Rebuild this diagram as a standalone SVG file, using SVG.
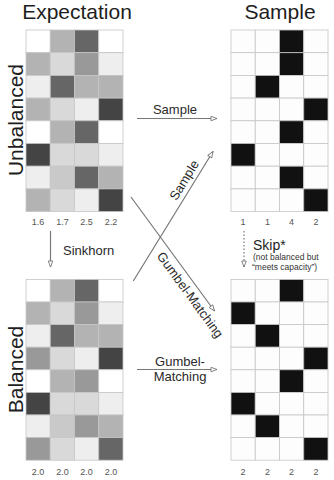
<svg xmlns="http://www.w3.org/2000/svg" width="334" height="480" viewBox="0 0 334 480">
<defs>
<style>
text{font-family:"Liberation Sans",Arial,sans-serif;}
.title{font-size:21px;fill:#1e1e1e;}
.side{font-size:21px;fill:#1e1e1e;}
.lbl{font-size:9px;fill:#555;text-anchor:middle;}
.al{font-size:13px;fill:#2a2a2a;}
.cell rect{stroke:#c6c6c6;stroke-width:0.8;}
.c0{fill:#ffffff}.c1{fill:#eeeeee}.c2{fill:#d9d9d9}.c3{fill:#c9c9c9}.c4{fill:#b3b3b3}.c5{fill:#999999}.c6{fill:#666666}.c7{fill:#444444}.k{fill:#111111}.w{fill:#fdfdfd}
.conn{stroke:#777;stroke-width:1.2;fill:none;}
</style>
<marker id="ah" viewBox="0 0 10 8" refX="9" refY="4" markerWidth="8" markerHeight="6" markerUnits="userSpaceOnUse" orient="auto">
<path d="M1,1 L9,4 L1,7 Z" fill="#fff" stroke="#777" stroke-width="1.2"/>
</marker>
</defs>
<rect width="334" height="480" fill="#fff"/>

<text class="title" x="77" y="19" text-anchor="middle">Expectation</text>
<text class="title" x="280" y="19" text-anchor="middle">Sample</text>

<g id="unbalanced-expectation">
<text class="side" transform="translate(23,120) rotate(-90)" text-anchor="middle">Unbalanced</text>
<g class="cell">
<rect class="c0" x="26" y="30" width="24.25" height="22.7"/><rect class="c4" x="50.25" y="30" width="24.25" height="22.7"/><rect class="c6" x="74.5" y="30" width="24.25" height="22.7"/><rect class="c0" x="98.75" y="30" width="24.25" height="22.7"/>
<rect class="c4" x="26" y="52.7" width="24.25" height="22.7"/><rect class="c2" x="50.25" y="52.7" width="24.25" height="22.7"/><rect class="c5" x="74.5" y="52.7" width="24.25" height="22.7"/><rect class="c1" x="98.75" y="52.7" width="24.25" height="22.7"/>
<rect class="c1" x="26" y="75.4" width="24.25" height="22.7"/><rect class="c6" x="50.25" y="75.4" width="24.25" height="22.7"/><rect class="c4" x="74.5" y="75.4" width="24.25" height="22.7"/><rect class="c4" x="98.75" y="75.4" width="24.25" height="22.7"/>
<rect class="c4" x="26" y="98.1" width="24.25" height="22.7"/><rect class="c2" x="50.25" y="98.1" width="24.25" height="22.7"/><rect class="c1" x="74.5" y="98.1" width="24.25" height="22.7"/><rect class="c7" x="98.75" y="98.1" width="24.25" height="22.7"/>
<rect class="c0" x="26" y="120.8" width="24.25" height="22.7"/><rect class="c4" x="50.25" y="120.8" width="24.25" height="22.7"/><rect class="c6" x="74.5" y="120.8" width="24.25" height="22.7"/><rect class="c0" x="98.75" y="120.8" width="24.25" height="22.7"/>
<rect class="c7" x="26" y="143.5" width="24.25" height="22.7"/><rect class="c2" x="50.25" y="143.5" width="24.25" height="22.7"/><rect class="c2" x="74.5" y="143.5" width="24.25" height="22.7"/><rect class="c1" x="98.75" y="143.5" width="24.25" height="22.7"/>
<rect class="c1" x="26" y="166.2" width="24.25" height="22.7"/><rect class="c3" x="50.25" y="166.2" width="24.25" height="22.7"/><rect class="c6" x="74.5" y="166.2" width="24.25" height="22.7"/><rect class="c4" x="98.75" y="166.2" width="24.25" height="22.7"/>
<rect class="c4" x="26" y="188.9" width="24.25" height="22.7"/><rect class="c2" x="50.25" y="188.9" width="24.25" height="22.7"/><rect class="c1" x="74.5" y="188.9" width="24.25" height="22.7"/><rect class="c7" x="98.75" y="188.9" width="24.25" height="22.7"/>
</g>
<text class="lbl" x="38.1" y="225">1.6</text><text class="lbl" x="62.4" y="225">1.7</text><text class="lbl" x="86.6" y="225">2.5</text><text class="lbl" x="110.9" y="225">2.2</text>
</g>

<g id="balanced-expectation">
<text class="side" transform="translate(23,369.5) rotate(-90)" text-anchor="middle">Balanced</text>
<g class="cell">
<rect class="c0" x="26" y="279.4" width="24.25" height="22.6"/><rect class="c4" x="50.25" y="279.4" width="24.25" height="22.6"/><rect class="c6" x="74.5" y="279.4" width="24.25" height="22.6"/><rect class="c0" x="98.75" y="279.4" width="24.25" height="22.6"/>
<rect class="c4" x="26" y="302" width="24.25" height="22.6"/><rect class="c2" x="50.25" y="302" width="24.25" height="22.6"/><rect class="c5" x="74.5" y="302" width="24.25" height="22.6"/><rect class="c1" x="98.75" y="302" width="24.25" height="22.6"/>
<rect class="c1" x="26" y="324.6" width="24.25" height="22.6"/><rect class="c6" x="50.25" y="324.6" width="24.25" height="22.6"/><rect class="c4" x="74.5" y="324.6" width="24.25" height="22.6"/><rect class="c4" x="98.75" y="324.6" width="24.25" height="22.6"/>
<rect class="c5" x="26" y="347.2" width="24.25" height="22.6"/><rect class="c2" x="50.25" y="347.2" width="24.25" height="22.6"/><rect class="c1" x="74.5" y="347.2" width="24.25" height="22.6"/><rect class="c7" x="98.75" y="347.2" width="24.25" height="22.6"/>
<rect class="c0" x="26" y="369.8" width="24.25" height="22.6"/><rect class="c4" x="50.25" y="369.8" width="24.25" height="22.6"/><rect class="c5" x="74.5" y="369.8" width="24.25" height="22.6"/><rect class="c0" x="98.75" y="369.8" width="24.25" height="22.6"/>
<rect class="c7" x="26" y="392.4" width="24.25" height="22.6"/><rect class="c2" x="50.25" y="392.4" width="24.25" height="22.6"/><rect class="c2" x="74.5" y="392.4" width="24.25" height="22.6"/><rect class="c1" x="98.75" y="392.4" width="24.25" height="22.6"/>
<rect class="c1" x="26" y="415" width="24.25" height="22.6"/><rect class="c3" x="50.25" y="415" width="24.25" height="22.6"/><rect class="c5" x="74.5" y="415" width="24.25" height="22.6"/><rect class="c4" x="98.75" y="415" width="24.25" height="22.6"/>
<rect class="c5" x="26" y="437.6" width="24.25" height="22.6"/><rect class="c2" x="50.25" y="437.6" width="24.25" height="22.6"/><rect class="c1" x="74.5" y="437.6" width="24.25" height="22.6"/><rect class="c6" x="98.75" y="437.6" width="24.25" height="22.6"/>
</g>
<text class="lbl" x="38.1" y="475">2.0</text><text class="lbl" x="62.4" y="475">2.0</text><text class="lbl" x="86.6" y="475">2.0</text><text class="lbl" x="110.9" y="475">2.0</text>
</g>

<g id="unbalanced-sample">
<g class="cell">
<rect class="w" x="231" y="30" width="24.25" height="22.7"/><rect class="w" x="255.25" y="30" width="24.25" height="22.7"/><rect class="k" x="279.5" y="30" width="24.25" height="22.7"/><rect class="w" x="303.75" y="30" width="24.25" height="22.7"/>
<rect class="w" x="231" y="52.7" width="24.25" height="22.7"/><rect class="w" x="255.25" y="52.7" width="24.25" height="22.7"/><rect class="k" x="279.5" y="52.7" width="24.25" height="22.7"/><rect class="w" x="303.75" y="52.7" width="24.25" height="22.7"/>
<rect class="w" x="231" y="75.4" width="24.25" height="22.7"/><rect class="k" x="255.25" y="75.4" width="24.25" height="22.7"/><rect class="w" x="279.5" y="75.4" width="24.25" height="22.7"/><rect class="w" x="303.75" y="75.4" width="24.25" height="22.7"/>
<rect class="w" x="231" y="98.1" width="24.25" height="22.7"/><rect class="w" x="255.25" y="98.1" width="24.25" height="22.7"/><rect class="w" x="279.5" y="98.1" width="24.25" height="22.7"/><rect class="k" x="303.75" y="98.1" width="24.25" height="22.7"/>
<rect class="w" x="231" y="120.8" width="24.25" height="22.7"/><rect class="w" x="255.25" y="120.8" width="24.25" height="22.7"/><rect class="k" x="279.5" y="120.8" width="24.25" height="22.7"/><rect class="w" x="303.75" y="120.8" width="24.25" height="22.7"/>
<rect class="k" x="231" y="143.5" width="24.25" height="22.7"/><rect class="w" x="255.25" y="143.5" width="24.25" height="22.7"/><rect class="w" x="279.5" y="143.5" width="24.25" height="22.7"/><rect class="w" x="303.75" y="143.5" width="24.25" height="22.7"/>
<rect class="w" x="231" y="166.2" width="24.25" height="22.7"/><rect class="w" x="255.25" y="166.2" width="24.25" height="22.7"/><rect class="k" x="279.5" y="166.2" width="24.25" height="22.7"/><rect class="w" x="303.75" y="166.2" width="24.25" height="22.7"/>
<rect class="w" x="231" y="188.9" width="24.25" height="22.7"/><rect class="w" x="255.25" y="188.9" width="24.25" height="22.7"/><rect class="w" x="279.5" y="188.9" width="24.25" height="22.7"/><rect class="k" x="303.75" y="188.9" width="24.25" height="22.7"/>
</g>
<text class="lbl" x="243.1" y="225">1</text><text class="lbl" x="267.4" y="225">1</text><text class="lbl" x="291.6" y="225">4</text><text class="lbl" x="315.9" y="225">2</text>
</g>

<g id="balanced-sample">
<g class="cell">
<rect class="w" x="231" y="279.4" width="24.25" height="22.6"/><rect class="w" x="255.25" y="279.4" width="24.25" height="22.6"/><rect class="k" x="279.5" y="279.4" width="24.25" height="22.6"/><rect class="w" x="303.75" y="279.4" width="24.25" height="22.6"/>
<rect class="k" x="231" y="302" width="24.25" height="22.6"/><rect class="w" x="255.25" y="302" width="24.25" height="22.6"/><rect class="w" x="279.5" y="302" width="24.25" height="22.6"/><rect class="w" x="303.75" y="302" width="24.25" height="22.6"/>
<rect class="w" x="231" y="324.6" width="24.25" height="22.6"/><rect class="k" x="255.25" y="324.6" width="24.25" height="22.6"/><rect class="w" x="279.5" y="324.6" width="24.25" height="22.6"/><rect class="w" x="303.75" y="324.6" width="24.25" height="22.6"/>
<rect class="w" x="231" y="347.2" width="24.25" height="22.6"/><rect class="w" x="255.25" y="347.2" width="24.25" height="22.6"/><rect class="w" x="279.5" y="347.2" width="24.25" height="22.6"/><rect class="k" x="303.75" y="347.2" width="24.25" height="22.6"/>
<rect class="w" x="231" y="369.8" width="24.25" height="22.6"/><rect class="w" x="255.25" y="369.8" width="24.25" height="22.6"/><rect class="k" x="279.5" y="369.8" width="24.25" height="22.6"/><rect class="w" x="303.75" y="369.8" width="24.25" height="22.6"/>
<rect class="k" x="231" y="392.4" width="24.25" height="22.6"/><rect class="w" x="255.25" y="392.4" width="24.25" height="22.6"/><rect class="w" x="279.5" y="392.4" width="24.25" height="22.6"/><rect class="w" x="303.75" y="392.4" width="24.25" height="22.6"/>
<rect class="w" x="231" y="415" width="24.25" height="22.6"/><rect class="k" x="255.25" y="415" width="24.25" height="22.6"/><rect class="w" x="279.5" y="415" width="24.25" height="22.6"/><rect class="w" x="303.75" y="415" width="24.25" height="22.6"/>
<rect class="w" x="231" y="437.6" width="24.25" height="22.6"/><rect class="w" x="255.25" y="437.6" width="24.25" height="22.6"/><rect class="w" x="279.5" y="437.6" width="24.25" height="22.6"/><rect class="k" x="303.75" y="437.6" width="24.25" height="22.6"/>
</g>
<text class="lbl" x="243.1" y="475">2</text><text class="lbl" x="267.4" y="475">2</text><text class="lbl" x="291.6" y="475">2</text><text class="lbl" x="315.9" y="475">2</text>
</g>

<g id="connectors">
<line class="conn" x1="137" y1="118.5" x2="217" y2="118.5" marker-end="url(#ah)"/>
<line class="conn" x1="50.5" y1="231" x2="50.5" y2="267" marker-end="url(#ah)"/>
<line class="conn" x1="133.3" y1="281" x2="213" y2="151.5" marker-end="url(#ah)"/>
<line class="conn" x1="131" y1="197" x2="214.5" y2="311" marker-end="url(#ah)"/>
<line class="conn" x1="137" y1="369.5" x2="217" y2="369.5" marker-end="url(#ah)"/>
<line class="conn" x1="244" y1="231" x2="244" y2="267" stroke-dasharray="1.5 2" marker-end="url(#ah)"/>
<text class="al" x="175" y="113.5" text-anchor="middle">Sample</text>
<text class="al" x="63" y="255">Sinkhorn</text>
<text class="al" transform="translate(187.9,182.5) rotate(-58.5)" text-anchor="middle">Sample</text>
<text class="al" transform="translate(186.5,297.5) rotate(53.9)" text-anchor="middle">Gumbel-Matching</text>
<text class="al" x="180" y="366" text-anchor="middle">Gumbel-</text>
<text class="al" x="180" y="381" text-anchor="middle">Matching</text>
<text x="253" y="250" style="font-size:14px;fill:#1e1e1e">Skip*</text>
<text x="253" y="260" style="font-size:8.5px;fill:#333">(not balanced but</text>
<text x="252" y="270" style="font-size:8.5px;fill:#333">“meets capacity”)</text>
</g>
</svg>
